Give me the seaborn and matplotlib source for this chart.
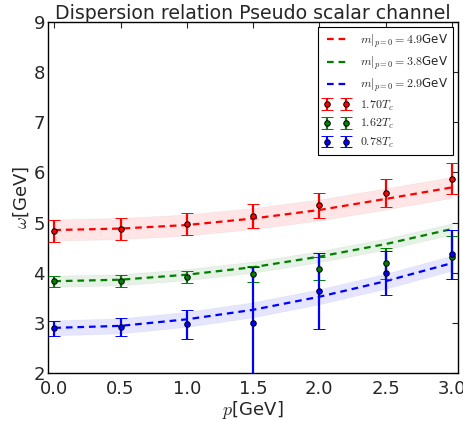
import numpy as np
import pandas as pd
import matplotlib
matplotlib.use("Agg")
import matplotlib.pyplot as plt
import seaborn as sns

# ---- data ----
p_pts = [0.0, 0.5, 1.0, 1.5, 2.0, 2.5, 3.0]

red_vals = [4.84, 4.87, 4.97, 5.13, 5.34, 5.59, 5.87]
red_errs = [0.22, 0.22, 0.22, 0.24, 0.25, 0.28, 0.31]
green_vals = [3.83, 3.84, 3.91, 3.97, 4.08, 4.19, 4.31]
green_errs = [0.11, 0.12, 0.12, 0.165, 0.23, 0.31, 0.43]
blue_vals = [2.89, 2.91, 2.97, 3.00, 3.63, 4.00, 4.37]
blue_errs = [0.15, 0.18, 0.29, 1.11, 0.76, 0.44, 0.49]

# fitted dispersion curves (read at the grid points)
curve_p = [0.0, 0.5, 1.0, 1.5, 2.0, 2.5, 3.0]
red_curve = [4.85, 4.88, 4.95, 5.08, 5.25, 5.47, 5.70]
green_curve = [3.83, 3.86, 3.96, 4.11, 4.32, 4.57, 4.87]
blue_curve = [2.90, 2.94, 3.07, 3.26, 3.52, 3.83, 4.19]
red_band = 0.21
green_band = 0.11
blue_band = 0.15

curve_labels = [r"$m|_{p=0}=4.9$GeV", r"$m|_{p=0}=3.8$GeV", r"$m|_{p=0}=2.9$GeV"]
point_labels = [r"$1.70T_c$", r"$1.62T_c$", r"$0.78T_c$"]
colors = ["red", "green", "blue"]

sns.set_style("white")
plt.rcParams["font.family"] = ["DejaVu Sans"]
plt.rcParams["mathtext.fontset"] = "cm"
plt.rcParams["xtick.direction"] = "in"
plt.rcParams["ytick.direction"] = "in"

fig = plt.figure(figsize=(4.63, 4.21), dpi=100)
ax = fig.add_axes([0.103, 0.114, 0.887, 0.834])

curves = [red_curve, green_curve, blue_curve]
bands = [red_band, green_band, blue_band]
for c, band, col, lab in zip(curves, bands, colors, curve_labels):
    df = pd.DataFrame({"p": curve_p, "w": c})
    arr = np.array(c)
    ax.fill_between(curve_p, arr - band, arr + band, facecolor=col, alpha=0.1,
                    edgecolor="0.5", linewidth=0.5, zorder=1)
    sns.lineplot(data=df, x="p", y="w", ax=ax, color=col, linestyle="--",
                 dashes=False, linewidth=1.6, label=lab, zorder=2)
for ln in ax.get_lines():
    ln.set_dashes((3, 2.2))

vals = [red_vals, green_vals, blue_vals]
errs = [red_errs, green_errs, blue_errs]
for v, e, col, lab in zip(vals, errs, colors, point_labels):
    ax.errorbar(p_pts, v, yerr=e, fmt="o", color=col, ecolor=col, markerfacecolor=col,
                markeredgecolor="black", markersize=4, markeredgewidth=0.7,
                elinewidth=1.6, capsize=4.5, capthick=1.6, label=lab, zorder=3)

ax.set_xlim(-0.05, 3.05)
ax.set_ylim(2, 9)
ax.set_xticks([0.0, 0.5, 1.0, 1.5, 2.0, 2.5, 3.0])
ax.set_yticks([2, 3, 4, 5, 6, 7, 8, 9])
ax.tick_params(axis="both", which="major", labelsize=13, length=4, width=0.8,
               top=True, right=True, direction="in")
ax.tick_params(axis="x", pad=5)
ax.tick_params(axis="y", pad=2)
for s in ax.spines.values():
    s.set_color("black")
    s.set_linewidth(1.0)

ax.set_xlabel(r"$p$[GeV]", fontsize=13, labelpad=1)
ax.set_ylabel(r"$\omega$[GeV]", fontsize=13, labelpad=2)
ax.set_title("Dispersion relation Pseudo scalar channel", fontsize=13.6, pad=2)

h, l = ax.get_legend_handles_labels()
leg = ax.legend(h, l, loc="upper right", fontsize=8.6, numpoints=2, fancybox=False,
                frameon=True, edgecolor="black", framealpha=1, labelspacing=0.38,
                handlelength=2.2, handletextpad=0.9, borderpad=0.4, borderaxespad=0.45)
leg.get_frame().set_linewidth(0.8)

fig.savefig("out.png", dpi=100)
